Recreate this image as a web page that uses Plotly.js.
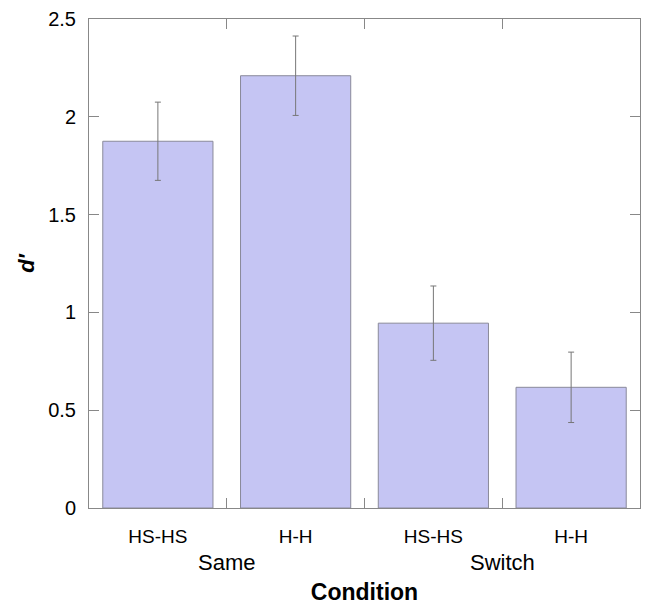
<!DOCTYPE html>
<html>
<head>
<meta charset="utf-8">
<script src="https://cdn.plot.ly/plotly-3.0.1.min.js"></script>
<style>html,body{margin:0;padding:0;background:#fff;}</style>
</head>
<body>
<div id="chart" style="width:645px;height:605px;"></div>
<script>
const categories = ["HS-HS", "H-H", "HS-HS ", "H-H "];
const tickLabels = ["HS-HS", "H-H", "HS-HS", "H-H"];
const dprime = [1.875, 2.21, 0.945, 0.617];
const errors = [0.2, 0.203, 0.19, 0.18];
const groups = ["Same", "Switch"];
const groupCenters = [0.5, 2.5];
const yTicks = [0, 0.5, 1, 1.5, 2, 2.5];

const trace = {
  type: "bar",
  x: categories,
  y: dprime,
  marker: {color: "#c5c5f3", line: {color: "#8a8a9a", width: 1}},
  error_y: {type: "data", array: errors, visible: true, color: "#777777", thickness: 1, width: 3},
  hoverinfo: "none"
};

const annotations = groups.map((g, i) => ({
  text: g, x: groupCenters[i], xref: "x", y: -0.112, yref: "paper",
  xanchor: "center", yanchor: "middle", showarrow: false,
  font: {family: "Liberation Sans, Arial, sans-serif", size: 22, color: "#000"}
}));

const layout = {
  width: 645, height: 605,
  margin: {l: 89, r: 5, t: 19, b: 97, pad: 0},
  paper_bgcolor: "#fff", plot_bgcolor: "#fff",
  showlegend: false,
  bargap: 0.2,
  font: {family: "Liberation Sans, Arial, sans-serif", color: "#000"},
  xaxis: {
    type: "category",
    range: [-0.5, 3.5],
    tickmode: "array", tickvals: categories, ticktext: tickLabels,
    tickson: "boundaries",
    ticks: "inside", ticklen: 10, tickcolor: "#888", tickwidth: 1,
    showline: true, linecolor: "#888", linewidth: 1, mirror: "ticks",
    showgrid: false, zeroline: false,
    tickfont: {size: 19, color: "#000"},
    ticklabelstandoff: 11,
    title: {text: "<b>Condition</b>", font: {size: 23, color: "#000"}, standoff: 50},
    automargin: false, fixedrange: true
  },
  yaxis: {
    range: [0, 2.5],
    tickmode: "array", tickvals: yTicks, ticktext: yTicks.map(String),
    ticks: "inside", ticklen: 10, tickcolor: "#888", tickwidth: 1,
    showline: true, linecolor: "#888", linewidth: 1, mirror: "ticks",
    showgrid: false, zeroline: false,
    tickfont: {size: 20, color: "#000"},
    ticklabelstandoff: 8,
    title: {text: "<b><i>d′</i></b>", font: {size: 22, color: "#000"}, standoff: 7},
    automargin: false, fixedrange: true
  },
  annotations: annotations
};

Plotly.newPlot("chart", [trace], layout, {displayModeBar: false, staticPlot: true});
</script>
</body>
</html>
